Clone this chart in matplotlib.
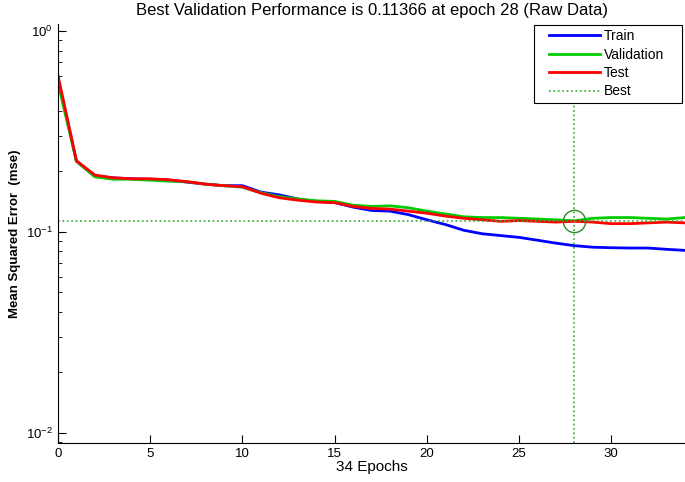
import matplotlib
matplotlib.use("Agg")
import matplotlib.pyplot as plt
from matplotlib.patches import Rectangle
from matplotlib.transforms import IdentityTransform

plt.rcParams['font.family'] = ['Liberation Sans', 'DejaVu Sans']
plt.rcParams['mathtext.default'] = 'regular'

epochs = list(range(35))
train = [0.58, 0.225, 0.190, 0.186, 0.184, 0.183, 0.181, 0.177, 0.173, 0.170,
         0.170, 0.158, 0.153, 0.146, 0.142, 0.140, 0.133, 0.128, 0.127, 0.122,
         0.115, 0.109, 0.102, 0.098, 0.096, 0.094, 0.091, 0.088, 0.0855, 0.084,
         0.0835, 0.0832, 0.0832, 0.082, 0.081]
validation = [0.55, 0.225, 0.188, 0.183, 0.183, 0.181, 0.179, 0.178, 0.173, 0.170,
              0.167, 0.157, 0.150, 0.146, 0.143, 0.142, 0.136, 0.134, 0.135, 0.132,
              0.127, 0.123, 0.119, 0.118, 0.118, 0.117, 0.116, 0.115, 0.11366, 0.117,
              0.118, 0.118, 0.117, 0.116, 0.118]
test = [0.60, 0.226, 0.192, 0.186, 0.184, 0.184, 0.182, 0.178, 0.173, 0.170,
        0.168, 0.156, 0.148, 0.144, 0.141, 0.140, 0.134, 0.131, 0.130, 0.127,
        0.124, 0.120, 0.117, 0.115, 0.113, 0.114, 0.113, 0.112, 0.113, 0.112,
        0.110, 0.110, 0.111, 0.112, 0.111]
best_epoch = 28
best_perf = 0.11366

fig = plt.figure(figsize=(6.85, 4.82), dpi=100)
ax = fig.add_axes([58/685, 39/482, 1 - 58/685, (443 - 24)/482])

ax.plot(epochs, train, color='#0000ff', lw=2, label='Train')
ax.plot(epochs, validation, color='#00cc00', lw=2, label='Validation')
ax.plot(epochs, test, color='#ff0000', lw=2, label='Test')
ax.axvline(best_epoch, color='#33aa33', ls=':', lw=1.2, label='Best')
ax.axhline(best_perf, color='#33aa33', ls=':', lw=1.2)
ax.plot(best_epoch, best_perf, 'o', mfc='none', mec='#2a8a2a', ms=16, mew=1)

ax.set_yscale('log')
ax.set_xlim(0, 34)
ax.set_ylim(10**-2.05, 10**0.035)
ax.set_xticks([0, 5, 10, 15, 20, 25, 30])
ax.tick_params(which='both', direction='in', labelsize=9.5)
ax.tick_params(which='major', length=6)
ax.tick_params(which='minor', length=3)
ax.spines['top'].set_visible(False)
ax.spines['right'].set_visible(False)

ax.set_title('Best Validation Performance is 0.11366 at epoch 28 (Raw Data)', fontsize=12, pad=6.5)
ax.set_xlabel('34 Epochs', fontsize=11, labelpad=0)
ax.set_ylabel('Mean Squared Error  (mse)', fontsize=9.5, fontweight='bold')

# legend: MATLAB style box, wider than matplotlib's default padding
leg = ax.legend(loc='upper right', fontsize=10, frameon=False,
                handlelength=3.7, borderpad=0.3, labelspacing=0.32,
                handletextpad=0.25, borderaxespad=0,
                bbox_to_anchor=(668/685, 1 - 25/482), bbox_transform=fig.transFigure)
fig.canvas.draw()
bb = leg.get_window_extent()
box = Rectangle((bb.x0 - 11, bb.y0), bb.width + 25, bb.height,
                transform=IdentityTransform(), facecolor='white',
                edgecolor='black', lw=0.8, zorder=4.9)
ax.add_artist(box)

fig.savefig('out.png', dpi=100)
